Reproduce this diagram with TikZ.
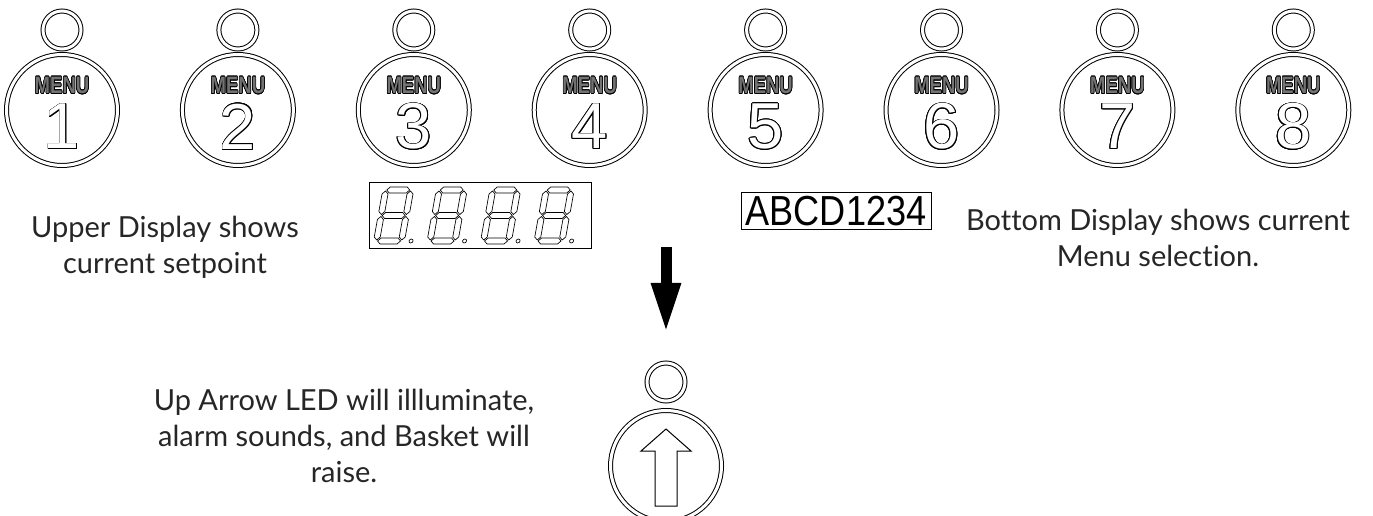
\documentclass[tikz,border=0pt]{standalone}
\usepackage{fontspec}
\setmainfont{Lato}[Ligatures=NoCommon]
\newfontfamily\btnfont{Liberation Sans}
\usepackage{graphicx}
\usepackage{contour}
\contourlength{0.6pt}
\usetikzlibrary{arrows.meta}

\newcommand{\hseg}[3]{\draw[segline] (#2+1,#1) -- (#2+4,#1+3) -- (#3-4,#1+3) -- (#3-1,#1) -- (#3-4,#1-3) -- (#2+4,#1-3) -- cycle;}
\newcommand{\vseg}[3]{\draw[segline] (#1,#2+1) -- (#1+3,#2+4) -- (#1+3,#3-4) -- (#1,#3-1) -- (#1-3,#3-4) -- (#1-3,#2+4) -- cycle;}
\newcommand{\segdigit}{\hseg{3}{3}{28}\hseg{28.5}{3}{28}\hseg{54}{3}{28}%
  \vseg{3}{3}{28.5}\vseg{28}{3}{28.5}\vseg{3}{28.5}{54}\vseg{28}{28.5}{54}%
  \draw[segline] (37.5,3) circle (2);}

\begin{document}
\begin{tikzpicture}[x=0.75pt, y=-0.75pt,
    bigbtn/.style={circle, draw, double, double distance=2.25pt, line width=0.75pt, minimum size=83.25pt, inner sep=0pt},
    ledbtn/.style={bigbtn, minimum size=28.5pt},
    menutxt/.style={font=\btnfont\bfseries\fontsize{17.8}{18}\selectfont, inner sep=0pt},
    numtxt/.style={font=\btnfont\fontsize{48.75}{50}\selectfont, inner sep=0pt},
    note/.style={font=\fontsize{21.75}{27}\selectfont, text=black!85, align=center, inner sep=0pt, anchor=north},
    segline/.style={line width=0.5pt},
    lcdbox/.style={draw, line width=0.75pt, inner sep=0pt}]
    \useasboundingbox (0,0) rectangle (1373,516);

    \foreach \i in {1,...,8} {
        \node[bigbtn] (btn\i) at ({62+175.9*(\i-1)},110) {};
        \node[ledbtn] (led\i) at ({62+175.9*(\i-1)},30) {};
        \node[menutxt] (menu\i) at ([yshift=18pt]btn\i.center) {\scalebox{0.78}[1]{\contour{black}{\textcolor{black!55}{MENU}}}};
        \node[numtxt] (num\i) at ([yshift=-12.75pt]btn\i.center) {\contour{black}{\textcolor{white}{\i}}};
    }

    \node[lcdbox, minimum width=166.5pt, minimum height=49.5pt] (upd) at (480,216) {};
    \foreach \d in {0,...,3} {
        \begin{scope}[shift={(373+53.5*\d,244)}, x=0.75pt, y=0.75pt, xslant=0.18]
            \segdigit
        \end{scope}
    }
    \node[lcdbox, minimum width=142.5pt, minimum height=27.75pt] (lwd) at (836,211.5)
        {\btnfont\fontsize{31.5}{32}\selectfont\scalebox{0.86}[1]{ABCD1234}};

    \node[note] (uptxt) at (165,215.5) {Upper Display shows\\current setpoint};
    \node[note] (bottxt) at (1158,209) {Bottom Display shows current\\Menu selection.};
    \node[note] (arrtxt) at (344,389) {Up Arrow LED will illluminate,\\alarm sounds, and Basket will\\raise.};

    \coordinate (dtop) at (666,247);
    \coordinate (dtip) at (666,333);
    \draw[line width=8.25pt, -{Triangle[length=37.5pt, width=20.25pt]}] (dtop) -- (dtip);

    \node[ledbtn] (upled) at (666,382) {};
    \node[bigbtn] (upbtn) at (666,466) {};
    \begin{scope}[shift={(upbtn.center)}]
        \draw[line width=0.75pt] (0,-37) -- (25,-15) -- (11,-15) -- (11,40) -- (-11,40) -- (-11,-15) -- (-25,-15) -- cycle;
    \end{scope}
\end{tikzpicture}
\end{document}
